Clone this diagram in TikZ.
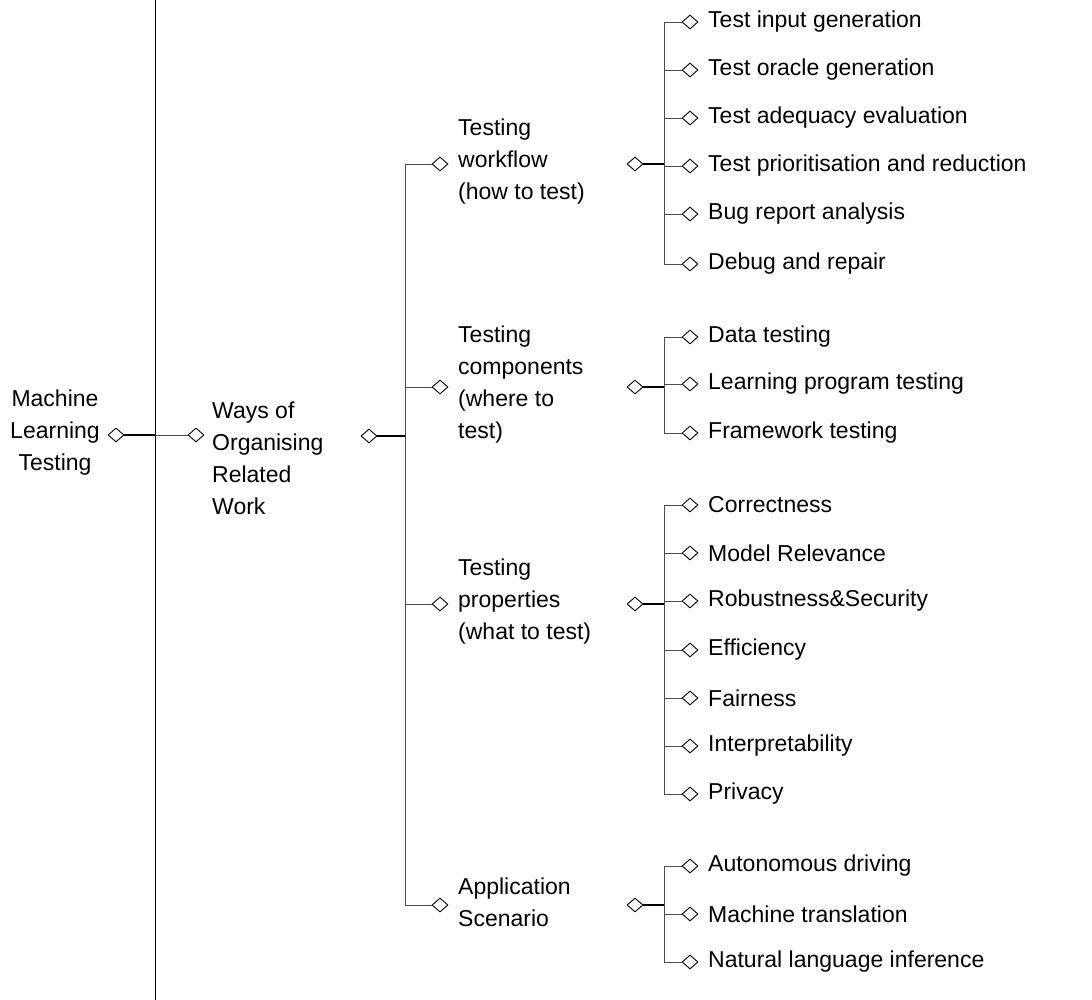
\documentclass[tikz,border=0pt]{standalone}
\usepackage{fontspec}
\setmainfont{Liberation Sans}
\usetikzlibrary{shapes.geometric}
\begin{document}
\begin{tikzpicture}[x=1pt,y=-1pt,
  dia/.style={diamond,draw=black,fill=white,inner sep=0pt,minimum width=16pt,minimum height=14pt,line width=0.9pt},
  lbl/.style={font=\fontsize{23}{32}\selectfont,inner sep=0pt,anchor=west,align=left},
  thin/.style={draw=black!70,line width=0.9pt},
  thick/.style={draw=black,line width=1.6pt}]
\useasboundingbox (0,0) rectangle (1092,1000);
\coordinate (vt) at (155,0); \coordinate (vb) at (155,1000);
\draw[thin,black] (vt) -- (vb);
% root
\node[font=\fontsize{23}{32}\selectfont,align=center,inner sep=0pt] (root) at (55,433) {Machine\\Learning\\Testing};
\node[dia] (rd) at (116,435) {};
\node[dia] (wd) at (196,435) {};
\coordinate (rj) at (155,435);
\draw[thick] (rd) -- (rj);
\draw[thin] (rj) -- (wd);
\node[lbl] (ways) at (212,458) {Ways of\\Organising\\Related\\Work};
\node[dia] (wo) at (369,436) {};
\coordinate (wj) at (405,436);
\draw[thick] (wo) -- (wj);
\coordinate (wtop) at (405,164); \coordinate (wbot) at (405,905);
\draw[thin] (wtop) -- (wbot);
% level 2
\foreach \n/\y/\ly/\t in {a/164/162/{Testing\\workflow\\(how to test)},
                     b/387/385/{Testing\\components\\(where to\\test)},
                     c/604/602/{Testing\\properties\\(what to test)},
                     d/905/902/{Application\\Scenario}}{
  \node[dia] (l\n) at (440,\y) {};
  \coordinate (j\n) at (405,\y);
  \draw[thin] (j\n) -- (l\n);
  \node[lbl] (t\n) at (458,\ly) {\t};
  \node[dia] (o\n) at (635,\y) {};
  \coordinate (k\n) at (664,\y);
  \draw[thick] (o\n) -- (k\n);
}
% leaves
\newcommand\leaves[3]{%
  \foreach \y/\t [count=\i] in {#2}{
    \node[dia] (#1\i) at (690,\y) {};
    \coordinate (#1c\i) at (664,\y);
    \draw[thin] (#1c\i) -- (#1\i);
    \node[lbl] (#1t\i) at (708,\y) {\t};
  }}
\leaves{wa}{22/Test input generation,70/Test oracle generation,118/Test adequacy evaluation,166/Test prioritisation and reduction,214/Bug report analysis,264/Debug and repair}{}
\draw[thin] (wac1) -- (wac6);
\leaves{wb}{337/Data testing,384/Learning program testing,433/Framework testing}{}
\draw[thin] (wbc1) -- (wbc3);
\leaves{wc}{505/Correctness,553/Model Relevance,601/Robustness\&Security,650/Efficiency,698/Fairness,746/Interpretability,794/Privacy}{}
\draw[thin] (wcc1) -- (wcc7);
\leaves{wd}{866/Autonomous driving,914/Machine translation,962/Natural language inference}{}
\draw[thin] (wdc1) -- (wdc3);
\end{tikzpicture}
\end{document}
